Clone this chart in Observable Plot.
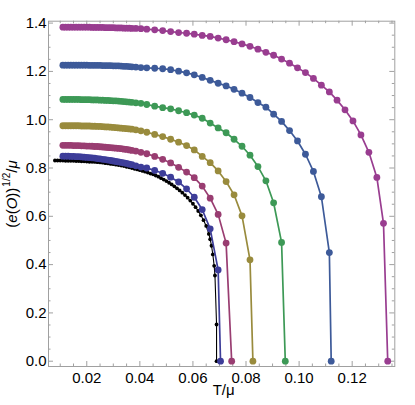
<!DOCTYPE html>
<html><head><meta charset="utf-8">
<script src="https://cdn.jsdelivr.net/npm/d3@7"></script>
<script src="https://cdn.jsdelivr.net/npm/@observablehq/plot@0.6"></script>
<style>body{margin:0;background:#fff}#chart{width:415px;height:405px}</style>
</head><body><div id="chart"></div>
<script>
// ---- data ----
const tDense = [0.011,0.012,0.013,0.014,0.015,0.016,0.017,0.018,0.019,0.020,
  0.021,0.022,0.023,0.024,0.025,0.026,0.027,0.028,0.029,0.030,
  0.031,0.032,0.033,0.034,0.035,0.036,0.037,0.0385,0.0404];
const tSparse = [0.0426,0.0456,0.0486,0.0516,0.0546,0.0576,0.0605,0.0635,0.0665,0.0695,
  0.0725,0.0755,0.0785,0.0815,0.0845,0.0875,0.0904,0.0934,0.0964,0.0994,
  0.1024,0.1054,0.1084,0.1114,0.1143,0.1173,0.1203,0.1233,0.1263,0.1293];

const blueDense = [0.849,0.849,0.849,0.848,0.848,0.847,0.847,0.846,0.845,0.844,
  0.843,0.842,0.841,0.839,0.838,0.836,0.835,0.833,0.831,0.829,
  0.827,0.825,0.823,0.821,0.819,0.816,0.814,0.809,0.804];
const blueSparse = [0.800,0.790,0.778,0.762,0.742,0.714,0.679,0.628,0.548,0.378];
const blueTailT = [0.0704], blueTailY = [0];

const maroonDense = [0.894,0.894,0.894,0.894,0.893,0.893,0.893,0.892,0.892,0.891,
  0.891,0.890,0.889,0.889,0.888,0.887,0.886,0.885,0.884,0.883,
  0.882,0.881,0.880,0.878,0.877,0.875,0.873,0.870,0.865];
const maroonSparse = [0.859,0.848,0.836,0.821,0.803,0.783,0.760,0.725,0.675,0.608,0.489];
const maroonTailT = [0.0746], maroonTailY = [0];

const oliveDense = [0.975,0.975,0.975,0.975,0.975,0.975,0.975,0.974,0.974,0.974,
  0.974,0.973,0.973,0.972,0.972,0.971,0.970,0.970,0.969,0.968,
  0.967,0.966,0.965,0.964,0.963,0.962,0.961,0.958,0.954];
const oliveSparse = [0.948,0.939,0.930,0.919,0.907,0.893,0.875,0.848,0.822,0.788,0.744,0.689,0.602,0.420];
const oliveTailT = [0.0826], oliveTailY = [0];

const greenDense = [1.084,1.084,1.084,1.084,1.084,1.084,1.084,1.083,1.083,1.083,
  1.083,1.082,1.082,1.082,1.081,1.081,1.080,1.080,1.079,1.078,
  1.078,1.077,1.076,1.075,1.074,1.073,1.072,1.070,1.068];
const greenSparse = [1.063,1.056,1.050,1.045,1.037,1.029,1.019,1.006,0.986,0.966,0.946,0.919,0.890,0.853,0.806,0.747,0.656,0.492];
const greenTailT = [0.0948], greenTailY = [0];

const steelDense = [1.226,1.226,1.226,1.226,1.226,1.226,1.226,1.226,1.226,1.226,
  1.225,1.225,1.225,1.225,1.225,1.224,1.224,1.224,1.224,1.223,
  1.223,1.223,1.222,1.221,1.221,1.220,1.219,1.218,1.216];
const steelSparse = [1.215,1.213,1.211,1.207,1.201,1.194,1.186,1.175,1.163,1.151,1.140,1.126,1.110,1.092,1.071,1.052,1.023,0.993,0.955,0.912,0.857,0.786,0.681,0.450];
const steelTailT = [0.1121], steelTailY = [0];

const purpleDense = [1.383,1.383,1.383,1.383,1.383,1.383,1.383,1.383,1.383,1.383,
  1.383,1.382,1.382,1.382,1.382,1.382,1.381,1.381,1.381,1.381,
  1.380,1.380,1.380,1.379,1.379,1.379,1.378,1.378,1.377];
const purpleSparse = [1.375,1.372,1.369,1.365,1.361,1.358,1.354,1.349,1.345,1.338,1.331,1.323,1.314,1.304,1.292,1.279,1.267,1.251,1.234,1.215,1.195,1.171,1.143,1.115,1.081,1.041,0.995,0.937,0.865,0.761];
const purpleTailT = [0.1318,0.1334], purpleTailY = [0.571,0];

const blackT = [0.008,0.009,0.010,0.011,0.012,0.013,0.014,0.015,0.016,0.017,0.018,0.019,0.020,
  0.021,0.022,0.023,0.024,0.025,0.026,0.027,0.028,0.029,0.030,0.031,0.032,0.033,0.034,0.035,
  0.036,0.037,0.038,0.039,0.040,0.041,0.042,0.043,0.044,0.045,0.046,0.047,0.048,0.049,0.050,
  0.051,0.052,0.053,0.054,0.055,0.056,0.057,0.058,0.059,0.060,0.061,0.062,0.063,0.064,0.065,0.066,
  0.0665,0.067,0.0675,0.068,0.0683,0.0689,0.0689];
const blackY = [0.831,0.831,0.831,0.831,0.830,0.830,0.830,0.830,0.829,0.829,0.828,0.828,0.827,
  0.826,0.826,0.825,0.824,0.823,0.822,0.820,0.819,0.817,0.816,0.814,0.812,0.810,0.808,0.805,
  0.803,0.800,0.797,0.794,0.791,0.788,0.785,0.781,0.777,0.774,0.769,0.764,0.758,0.752,0.746,
  0.739,0.732,0.724,0.716,0.707,0.698,0.688,0.677,0.665,0.652,0.638,0.622,0.604,0.584,0.560,0.527,
  0.505,0.478,0.442,0.395,0.355,0.152,0];

const xMajor = [0.02,0.04,0.06,0.08,0.10,0.12];
const xLabels = ["0.02","0.04","0.06","0.08","0.10","0.12"];
const xMinor = [0.01,0.015,0.025,0.03,0.035,0.045,0.05,0.055,0.065,0.07,0.075,0.085,0.09,0.095,0.105,0.11,0.115,0.125,0.13,0.135];
const yMajor = [0,0.2,0.4,0.6,0.8,1.0,1.2,1.4];
const yLabels = ["0.0","0.2","0.4","0.6","0.8","1.0","1.2","1.4"];
const yMinor = [0.05,0.1,0.15,0.25,0.3,0.35,0.45,0.5,0.55,0.65,0.7,0.75,0.85,0.9,0.95,1.05,1.1,1.15,1.25,1.3,1.35];

// ---- build ----
const curves = [
  {color:"#3d3d99", dense:blueDense, sparse:blueSparse, tt:blueTailT, ty:blueTailY},
  {color:"#993d71", dense:maroonDense, sparse:maroonSparse, tt:maroonTailT, ty:maroonTailY},
  {color:"#998b3d", dense:oliveDense, sparse:oliveSparse, tt:oliveTailT, ty:oliveTailY},
  {color:"#3d9956", dense:greenDense, sparse:greenSparse, tt:greenTailT, ty:greenTailY},
  {color:"#3d5a99", dense:steelDense, sparse:steelSparse, tt:steelTailT, ty:steelTailY},
  {color:"#993d90", dense:purpleDense, sparse:purpleSparse, tt:purpleTailT, ty:purpleTailY}
];
function pts(c){
  const p = [];
  tDense.forEach((t,i)=>p.push({T:t, v:c.dense[i]}));
  c.sparse.forEach((v,i)=>p.push({T:tSparse[i], v}));
  c.tt.forEach((t,i)=>p.push({T:t, v:c.ty[i]}));
  return p;
}
const blackPts = blackT.map((t,i)=>({T:t, v:blackY[i]}));

const W = 415, H = 405, mL = 48, mR = 20.7, mT = 20.7, mB = 39;
const pw = W - mL - mR, ph = H - mT - mB;
const gray = "#a0a0a0";

const marks = [
  Plot.frame({stroke: gray}),
  Plot.tickX(xMajor, {x: d=>d, insetTop: ph-5, stroke: gray}),
  Plot.tickX(xMajor, {x: d=>d, insetBottom: ph-5, stroke: gray}),
  Plot.tickX(xMinor, {x: d=>d, insetTop: ph-2.5, stroke: gray}),
  Plot.tickX(xMinor, {x: d=>d, insetBottom: ph-2.5, stroke: gray}),
  Plot.tickY(yMajor, {y: d=>d, insetRight: pw-5, stroke: gray}),
  Plot.tickY(yMajor, {y: d=>d, insetLeft: pw-5, stroke: gray}),
  Plot.tickY(yMinor, {y: d=>d, insetRight: pw-2.5, stroke: gray}),
  Plot.tickY(yMinor, {y: d=>d, insetLeft: pw-2.5, stroke: gray}),
  Plot.axisX(xMajor, {tickSize: 0, tickPadding: 6, tickFormat: (d,i)=>xLabels[i], fontSize: 15, label: null}),
  Plot.axisY(yMajor, {tickSize: 0, tickPadding: 2, tickFormat: (d,i)=>yLabels[i], fontSize: 15, label: null}),
  Plot.text(["T/μ"], {frameAnchor: "bottom", dy: 28, dx: 2, fontSize: 15, fill: "#000"}),
  Plot.line(blackPts, {x:"T", y:"v", stroke:"#000", strokeWidth: 1.1}),
  Plot.dot(blackPts, {x:"T", y:"v", r: 1.9, fill:"#000"})
];
for (const c of curves) {
  const p = pts(c);
  marks.push(Plot.line(p, {x:"T", y:"v", stroke:c.color, strokeWidth: 1.7}));
  marks.push(Plot.dot(p, {x:"T", y:"v", r: 3.4, fill:c.color}));
}

const chart = Plot.plot({
  width: W, height: H,
  marginLeft: mL, marginRight: mR, marginTop: mT, marginBottom: mB,
  style: {fontFamily: "'Liberation Sans', Arial, sans-serif", fontSize: "15px", color: "#000", background: "#fff"},
  x: {domain: [0.00558, 0.13606]},
  y: {domain: [-0.0219, 1.4079]},
  marks
});
document.getElementById("chart").appendChild(chart);

// rotated y-axis title with a superscript
const lab = d3.select(chart).append("text")
  .attr("transform", "translate(17,194) rotate(-90)")
  .attr("text-anchor", "middle")
  .attr("font-size", 15)
  .attr("fill", "#000")
  .attr("font-family", "'Liberation Sans', Arial, sans-serif");
lab.append("tspan").text("(");
lab.append("tspan").attr("font-style","italic").text("e");
lab.append("tspan").text("(");
lab.append("tspan").attr("font-style","italic").text("O");
lab.append("tspan").text("))");
lab.append("tspan").attr("font-size", 10).attr("dy", -7).attr("dx", 1).text("1/2");
lab.append("tspan").attr("dy", 7).text("/");
lab.append("tspan").attr("font-style","italic").text("μ");
</script>
</body></html>
